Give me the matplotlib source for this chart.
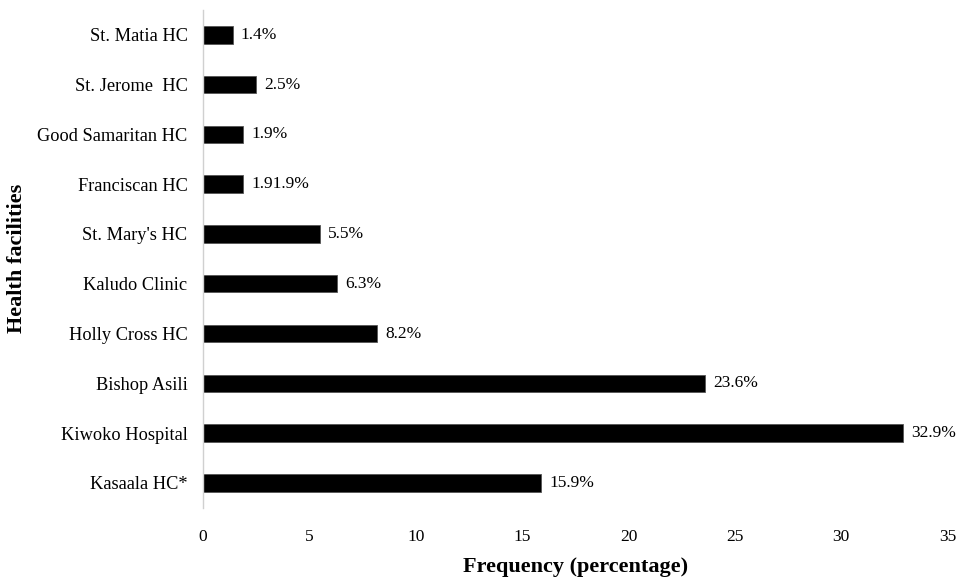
import matplotlib
matplotlib.use("Agg")
import matplotlib.pyplot as plt

facilities = ["St. Matia HC", "St. Jerome  HC", "Good Samaritan HC", "Franciscan HC",
              "St. Mary's HC", "Kaludo Clinic", "Holly Cross HC", "Bishop Asili",
              "Kiwoko Hospital", "Kasaala HC*"]
values = [1.4, 2.5, 1.9, 1.9, 5.5, 6.3, 8.2, 23.6, 32.9, 15.9]
value_labels = ["1.4%", "2.5%", "1.9%", "1.91.9%", "5.5%", "6.3%", "8.2%",
                "23.6%", "32.9%", "15.9%"]
xticks = [0, 5, 10, 15, 20, 25, 30, 35]

plt.rcParams['font.family'] = ['Liberation Serif', 'DejaVu Serif']

fig = plt.figure(figsize=(9.66, 5.85), dpi=100)
ax = fig.add_axes([0.210, 0.132, 0.771, 0.851])

pos = list(range(len(facilities)))
ax.barh(pos, values, height=0.35, color='black', edgecolor='#555555', linewidth=0.6)
for p, v, t in zip(pos, values, value_labels):
    ax.text(v + 0.37, p, t, va='center', ha='left', fontsize=12.5)

ax.set_yticks(pos)
ax.set_yticklabels(facilities, fontsize=13.2)
ax.set_ylim(len(facilities) - 0.5, -0.5)
ax.set_xlim(0, 35)
ax.set_xticks(xticks)
ax.set_xticklabels([str(x) for x in xticks], fontsize=12.5)
ax.tick_params(axis='both', length=0)
ax.tick_params(axis='x', pad=15)
ax.tick_params(axis='y', pad=11)
for s in ['top', 'right', 'bottom']:
    ax.spines[s].set_visible(False)
ax.spines['left'].set_color('#d0d0d0')
ax.spines['left'].set_linewidth(1.0)

ax.set_xlabel("Frequency (percentage)", fontsize=16, fontweight='bold', labelpad=9)
ax.set_ylabel("Health facilities", fontsize=16, fontweight='bold', va='center')
ax.yaxis.set_label_coords(-0.2497, 0.5)

fig.savefig("out.png", dpi=100)
